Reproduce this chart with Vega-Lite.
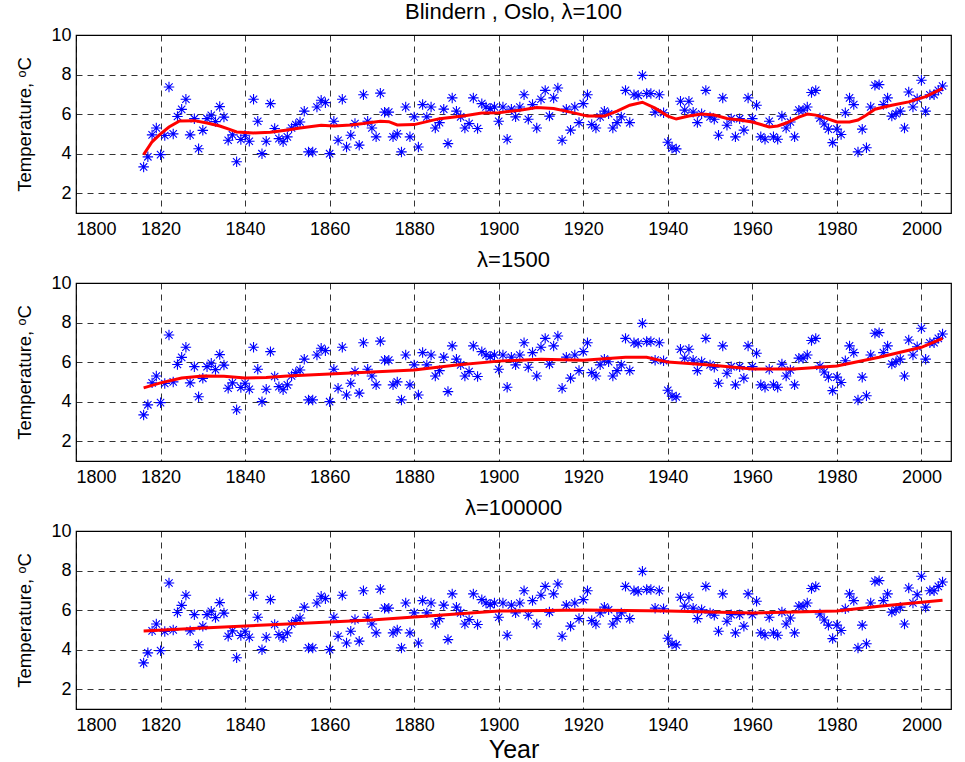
{
  "$schema": "https://vega.github.io/schema/vega-lite/v6.json",
  "background": "white",
  "padding": {"left": 15, "top": 0, "right": 5, "bottom": 0},
  "bounds": "flush",
  "spacing": 70,
  "config": {
    "font": "Liberation Sans",
    "view": {"stroke": "#000", "strokeWidth": 1.2},
    "axis": {"domain": false, "ticks": false, "grid": true, "gridColor": "#000", "gridDash": [6, 5], "gridWidth": 0.8, "gridOpacity": 1,
      "labelFont": "Liberation Sans", "labelFontSize": 18, "labelColor": "#000", "titleFont": "Liberation Sans", "titleFontWeight": "normal", "titleColor": "#000"},
    "title": {"font": "Liberation Sans", "fontSize": 22, "fontWeight": "normal", "color": "#000", "offset": 2}
  },
  "datasets": {
    "pts": [
      {"year":1816,"t":3.33},{"year":1817,"t":3.84},{"year":1818,"t":4.95},{"year":1819,"t":5.3},{"year":1820,"t":3.95},
      {"year":1821,"t":4.92},{"year":1822,"t":7.37},{"year":1823,"t":5.0},{"year":1824,"t":5.88},{"year":1825,"t":6.24},
      {"year":1826,"t":6.75},{"year":1827,"t":4.95},{"year":1828,"t":5.77},{"year":1829,"t":4.25},{"year":1830,"t":5.18},
      {"year":1831,"t":5.77},{"year":1832,"t":5.94},{"year":1833,"t":5.62},{"year":1834,"t":6.38},{"year":1835,"t":5.85},
      {"year":1836,"t":4.68},{"year":1837,"t":4.95},{"year":1838,"t":3.59},{"year":1839,"t":4.72},{"year":1840,"t":4.93},
      {"year":1841,"t":4.63},{"year":1842,"t":6.75},{"year":1843,"t":5.64},{"year":1844,"t":4.0},{"year":1845,"t":4.63},
      {"year":1846,"t":6.53},{"year":1847,"t":5.27},{"year":1848,"t":4.76},{"year":1849,"t":4.6},{"year":1850,"t":4.85},
      {"year":1851,"t":5.3},{"year":1852,"t":5.47},{"year":1853,"t":5.6},{"year":1854,"t":6.15},{"year":1855,"t":4.09},
      {"year":1856,"t":4.09},{"year":1857,"t":6.36},{"year":1858,"t":6.7},{"year":1859,"t":6.58},{"year":1860,"t":4.0},
      {"year":1861,"t":5.64},{"year":1862,"t":4.68},{"year":1863,"t":6.75},{"year":1864,"t":4.34},{"year":1865,"t":4.93},
      {"year":1866,"t":5.52},{"year":1867,"t":4.43},{"year":1868,"t":6.98},{"year":1869,"t":5.64},{"year":1870,"t":5.3},
      {"year":1871,"t":4.85},{"year":1872,"t":7.06},{"year":1873,"t":6.1},{"year":1874,"t":6.1},{"year":1875,"t":4.85},
      {"year":1876,"t":5.0},{"year":1877,"t":4.09},{"year":1878,"t":6.36},{"year":1879,"t":4.85},{"year":1880,"t":5.86},
      {"year":1881,"t":4.34},{"year":1882,"t":6.48},{"year":1883,"t":5.86},{"year":1884,"t":6.36},{"year":1885,"t":5.3},
      {"year":1886,"t":5.57},{"year":1887,"t":6.25},{"year":1888,"t":4.51},{"year":1889,"t":6.82},{"year":1890,"t":6.15},
      {"year":1891,"t":5.86},{"year":1892,"t":5.3},{"year":1893,"t":5.52},{"year":1894,"t":6.82},{"year":1895,"t":5.27},
      {"year":1896,"t":6.53},{"year":1897,"t":6.36},{"year":1898,"t":6.28},{"year":1899,"t":6.36},{"year":1900,"t":5.64},
      {"year":1901,"t":6.36},{"year":1902,"t":4.73},{"year":1903,"t":6.25},{"year":1904,"t":5.86},{"year":1905,"t":6.36},
      {"year":1906,"t":6.98},{"year":1907,"t":5.74},{"year":1908,"t":6.48},{"year":1909,"t":5.3},{"year":1910,"t":6.75},
      {"year":1911,"t":7.2},{"year":1912,"t":5.9},{"year":1913,"t":6.82},{"year":1914,"t":7.32},{"year":1915,"t":4.68},
      {"year":1916,"t":6.25},{"year":1917,"t":5.19},{"year":1918,"t":6.36},{"year":1919,"t":5.57},{"year":1920,"t":6.53},
      {"year":1921,"t":6.98},{"year":1922,"t":5.47},{"year":1923,"t":5.3},{"year":1924,"t":5.86},{"year":1925,"t":6.15},
      {"year":1926,"t":6.02},{"year":1927,"t":5.3},{"year":1928,"t":5.57},{"year":1929,"t":5.86},{"year":1930,"t":7.2},
      {"year":1931,"t":5.57},{"year":1932,"t":6.98},{"year":1933,"t":6.95},{"year":1934,"t":7.96},{"year":1935,"t":7.04},
      {"year":1936,"t":7.04},{"year":1937,"t":6.1},{"year":1938,"t":6.98},{"year":1939,"t":6.07},{"year":1940,"t":4.58},
      {"year":1941,"t":4.28},{"year":1942,"t":4.24},{"year":1943,"t":6.65},{"year":1944,"t":6.2},{"year":1945,"t":6.65},
      {"year":1946,"t":6.1},{"year":1947,"t":5.57},{"year":1948,"t":6.02},{"year":1949,"t":7.2},{"year":1950,"t":5.86},
      {"year":1951,"t":5.74},{"year":1952,"t":4.93},{"year":1953,"t":6.82},{"year":1954,"t":5.44},{"year":1955,"t":5.77},
      {"year":1956,"t":4.85},{"year":1957,"t":5.77},{"year":1958,"t":5.19},{"year":1959,"t":6.82},{"year":1960,"t":5.77},
      {"year":1961,"t":6.45},{"year":1962,"t":4.85},{"year":1963,"t":4.73},{"year":1964,"t":5.64},{"year":1965,"t":4.85},
      {"year":1966,"t":4.73},{"year":1967,"t":5.9},{"year":1968,"t":5.3},{"year":1969,"t":5.6},{"year":1970,"t":4.85},
      {"year":1971,"t":6.2},{"year":1972,"t":6.2},{"year":1973,"t":6.36},{"year":1974,"t":7.09},{"year":1975,"t":7.2},
      {"year":1976,"t":5.8},{"year":1977,"t":5.5},{"year":1978,"t":5.24},{"year":1979,"t":4.56},{"year":1980,"t":5.24},
      {"year":1981,"t":4.97},{"year":1982,"t":6.07},{"year":1983,"t":6.82},{"year":1984,"t":6.48},{"year":1985,"t":4.09},
      {"year":1986,"t":5.24},{"year":1987,"t":4.3},{"year":1988,"t":6.36},{"year":1989,"t":7.46},{"year":1990,"t":7.49},
      {"year":1991,"t":6.48},{"year":1992,"t":6.82},{"year":1993,"t":5.9},{"year":1994,"t":6.02},{"year":1995,"t":6.15},
      {"year":1996,"t":5.3},{"year":1997,"t":7.12},{"year":1998,"t":6.36},{"year":1999,"t":6.78},{"year":2000,"t":7.71},
      {"year":2001,"t":6.15},{"year":2002,"t":6.98},{"year":2003,"t":6.98},{"year":2004,"t":7.2},{"year":2005,"t":7.42}
    ],
    "s100": [
      {"year":1816,"v":3.95},{"year":1818,"v":4.6},{"year":1820,"v":5.0},{"year":1822,"v":5.35},{"year":1824.5,"v":5.65},
      {"year":1828,"v":5.67},{"year":1831,"v":5.55},{"year":1834,"v":5.4},{"year":1836,"v":5.25},{"year":1838,"v":5.1},
      {"year":1842,"v":5.05},{"year":1846,"v":5.08},{"year":1850,"v":5.2},{"year":1853,"v":5.3},{"year":1858,"v":5.44},
      {"year":1861,"v":5.4},{"year":1865,"v":5.45},{"year":1868,"v":5.52},{"year":1872,"v":5.64},{"year":1874,"v":5.62},
      {"year":1876,"v":5.45},{"year":1880,"v":5.47},{"year":1886,"v":5.77},{"year":1892,"v":5.92},{"year":1896,"v":6.05},
      {"year":1900,"v":6.07},{"year":1905,"v":6.2},{"year":1909,"v":6.33},{"year":1913,"v":6.28},{"year":1917,"v":6.1},
      {"year":1921,"v":5.9},{"year":1925,"v":5.9},{"year":1928,"v":6.15},{"year":1931,"v":6.45},{"year":1934,"v":6.6},
      {"year":1937,"v":6.3},{"year":1940,"v":5.9},{"year":1942,"v":5.75},{"year":1945,"v":5.9},{"year":1948,"v":6.0},
      {"year":1951,"v":5.95},{"year":1954,"v":5.78},{"year":1957,"v":5.7},{"year":1960,"v":5.6},{"year":1964,"v":5.35},
      {"year":1966,"v":5.4},{"year":1968,"v":5.55},{"year":1971,"v":5.85},{"year":1973,"v":6.0},{"year":1975,"v":5.95},
      {"year":1977,"v":5.82},{"year":1980,"v":5.6},{"year":1983,"v":5.6},{"year":1985,"v":5.7},{"year":1987,"v":5.95},
      {"year":1989,"v":6.25},{"year":1993,"v":6.45},{"year":1997,"v":6.62},{"year":2001,"v":6.88},{"year":2005,"v":7.3}
    ],
    "s1500": [
      {"year":1816,"v":4.7},{"year":1820,"v":4.95},{"year":1825,"v":5.2},{"year":1830,"v":5.3},{"year":1835,"v":5.28},
      {"year":1840,"v":5.2},{"year":1845,"v":5.22},{"year":1850,"v":5.3},{"year":1860,"v":5.4},{"year":1870,"v":5.5},
      {"year":1880,"v":5.6},{"year":1890,"v":5.85},{"year":1900,"v":6.05},{"year":1910,"v":6.15},{"year":1920,"v":6.1},
      {"year":1930,"v":6.25},{"year":1935,"v":6.25},{"year":1940,"v":6.0},{"year":1950,"v":5.85},{"year":1960,"v":5.65},
      {"year":1970,"v":5.65},{"year":1980,"v":5.8},{"year":1990,"v":6.25},{"year":2000,"v":6.75},{"year":2005,"v":7.2}
    ],
    "s100000": [
      {"year":1816,"v":4.95},{"year":1830,"v":5.1},{"year":1850,"v":5.3},{"year":1870,"v":5.5},{"year":1890,"v":5.8},
      {"year":1900,"v":5.95},{"year":1920,"v":6.0},{"year":1940,"v":5.95},{"year":1960,"v":5.85},{"year":1980,"v":5.95},
      {"year":1990,"v":6.2},{"year":2005,"v":6.5}
    ]
  },
  "vconcat": [
    {
      "width": 875, "height": 178,
      "title": {"text": "Blindern , Oslo, λ=100", "letterSpacing": 1.5},
      "layer": [
        {"data": {"name": "pts"}, "mark": {"type": "point", "shape": "M -1 0 L 1 0 M 0 -1 L 0 1 M -0.7 -0.7 L 0.7 0.7 M -0.7 0.7 L 0.7 -0.7", "filled": false, "size": 110, "color": "#0000FF", "strokeWidth": 1.1, "opacity": 1},
          "encoding": {
            "x": {"field": "year", "type": "quantitative", "scale": {"domain": [1800, 2007], "nice": false, "zero": false}, "axis": {"values": [1800,1820,1840,1860,1880,1900,1920,1940,1960,1980,2000], "format": "d", "title": null, "labelPadding": 7}},
            "y": {"field": "t", "type": "quantitative", "scale": {"domain": [1, 10], "nice": false, "zero": false}, "axis": {"values": [2,4,6,8,10], "title": "Temperature, ᵒC", "titleFontSize": 18.5, "labelPadding": 5, "titlePadding": 16}}
          }},
        {"data": {"name": "s100"}, "mark": {"type": "line", "color": "#FF0000", "strokeWidth": 3},
          "encoding": {"x": {"field": "year", "type": "quantitative"}, "y": {"field": "v", "type": "quantitative"}}}
      ]
    },
    {
      "width": 875, "height": 178,
      "title": {"text": "λ=1500"},
      "layer": [
        {"data": {"name": "pts"}, "mark": {"type": "point", "shape": "M -1 0 L 1 0 M 0 -1 L 0 1 M -0.7 -0.7 L 0.7 0.7 M -0.7 0.7 L 0.7 -0.7", "filled": false, "size": 110, "color": "#0000FF", "strokeWidth": 1.1, "opacity": 1},
          "encoding": {
            "x": {"field": "year", "type": "quantitative", "scale": {"domain": [1800, 2007], "nice": false, "zero": false}, "axis": {"values": [1800,1820,1840,1860,1880,1900,1920,1940,1960,1980,2000], "format": "d", "title": null, "labelPadding": 7}},
            "y": {"field": "t", "type": "quantitative", "scale": {"domain": [1, 10], "nice": false, "zero": false}, "axis": {"values": [2,4,6,8,10], "title": "Temperature, ᵒC", "titleFontSize": 18.5, "labelPadding": 5, "titlePadding": 16}}
          }},
        {"data": {"name": "s1500"}, "mark": {"type": "line", "color": "#FF0000", "strokeWidth": 3},
          "encoding": {"x": {"field": "year", "type": "quantitative"}, "y": {"field": "v", "type": "quantitative"}}}
      ]
    },
    {
      "width": 875, "height": 178,
      "title": {"text": "λ=100000"},
      "layer": [
        {"data": {"name": "pts"}, "mark": {"type": "point", "shape": "M -1 0 L 1 0 M 0 -1 L 0 1 M -0.7 -0.7 L 0.7 0.7 M -0.7 0.7 L 0.7 -0.7", "filled": false, "size": 110, "color": "#0000FF", "strokeWidth": 1.1, "opacity": 1},
          "encoding": {
            "x": {"field": "year", "type": "quantitative", "scale": {"domain": [1800, 2007], "nice": false, "zero": false}, "axis": {"values": [1800,1820,1840,1860,1880,1900,1920,1940,1960,1980,2000], "format": "d", "title": "Year", "titleFontSize": 25, "labelPadding": 7, "titlePadding": 3}},
            "y": {"field": "t", "type": "quantitative", "scale": {"domain": [1, 10], "nice": false, "zero": false}, "axis": {"values": [2,4,6,8,10], "title": "Temperature, ᵒC", "titleFontSize": 18.5, "labelPadding": 5, "titlePadding": 16}}
          }},
        {"data": {"name": "s100000"}, "mark": {"type": "line", "color": "#FF0000", "strokeWidth": 3},
          "encoding": {"x": {"field": "year", "type": "quantitative"}, "y": {"field": "v", "type": "quantitative"}}}
      ]
    }
  ]
}
